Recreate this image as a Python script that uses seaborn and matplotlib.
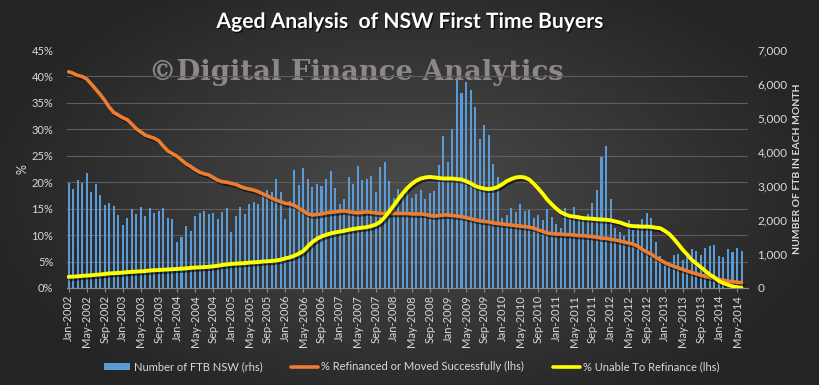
import numpy as np
import pandas as pd
import matplotlib
matplotlib.use("Agg")
import matplotlib.pyplot as plt
import matplotlib.patheffects as pe
from matplotlib.colors import LinearSegmentedColormap
from matplotlib.lines import Line2D
from matplotlib.patches import Patch
import seaborn as sns


# Data (monthly, Jan-2002 .. Jun-2014)

months = pd.date_range("2002-01-01", periods=150, freq="MS")
month_labels = list(months.strftime("%b-%Y"))

ftb_nsw = [
    3100, 2910, 3176, 3100, 3390, 2833, 3059, 2735, 2441, 2500, 2412, 2147,
    1853, 2059, 2324, 2176, 2373, 2118, 2353, 2216, 2275, 2353, 2059, 2029,
    1353, 1500, 1824, 1676, 2118, 2206, 2275, 2176, 2206, 2029, 2235, 2353,
    1647, 2118, 2373, 2176, 2470, 2529, 2470, 2765, 2882, 2824, 3206, 2833,
    2029, 2569, 3471, 3029, 3529, 3206, 2970, 3059, 3000, 3206, 3441, 2941,
    2470, 2618, 3265, 3059, 3588, 3176, 3206, 3294, 2824, 3559, 3706, 3147,
    2647, 2912, 2814, 2931, 2637, 2765, 2882, 2608, 2794, 2843, 3618, 4471,
    3706, 4676, 6147, 5725, 6059, 5814, 5324, 4382, 4794, 4500, 3647, 3265,
    2049, 2137, 2353, 2235, 2470, 2275, 2294, 2059, 2147, 2000, 2324, 2098,
    1873, 1755, 2363, 2100, 2373, 2147, 2127, 2176, 2500, 2882, 3853, 4176,
    2618, 1765, 1647, 1529, 2000, 1706, 1882, 2029, 2206, 2059, 1353, 941,
    676, 765, 971, 1000, 824, 1000, 1147, 1088, 971, 1176, 1235, 1255,
    941, 912, 1147, 1059, 1176, 1088,
]

refinanced_pct = [
    40.9, 40.6, 40.2, 40.0, 39.5, 38.6, 37.6, 36.6, 35.5, 34.2, 33.2, 32.7,
    32.2, 31.8, 31.0, 30.1, 29.5, 28.9, 28.6, 28.3, 27.8, 26.8, 25.9, 25.4,
    24.9, 24.2, 23.5, 23.0, 22.4, 21.9, 21.6, 21.4, 20.9, 20.4, 20.1, 20.0,
    19.8, 19.6, 19.2, 18.9, 18.7, 18.5, 18.2, 17.8, 17.4, 17.0, 16.6, 16.3,
    16.0, 15.9, 15.6, 15.1, 14.5, 14.0, 13.8, 13.9, 14.0, 14.2, 14.3, 14.4,
    14.5, 14.6, 14.4, 14.3, 14.2, 14.3, 14.4, 14.3, 14.2, 14.1, 14.1, 14.1,
    14.1, 14.1, 14.1, 14.1, 14.0, 14.0, 14.0, 13.9, 13.7, 13.6, 13.7, 13.8,
    13.8, 13.7, 13.6, 13.5, 13.3, 13.1, 12.9, 12.7, 12.6, 12.5, 12.3, 12.2,
    12.1, 12.0, 11.9, 11.8, 11.7, 11.6, 11.5, 11.3, 11.0, 10.7, 10.4, 10.3,
    10.2, 10.2, 10.1, 10.1, 10.0, 9.9, 9.9, 9.8, 9.7, 9.6, 9.4, 9.4,
    9.2, 9.1, 8.9, 8.7, 8.5, 8.3, 7.9, 7.3, 6.8, 6.4, 5.8, 5.3,
    4.8, 4.4, 4.1, 3.8, 3.5, 3.2, 2.9, 2.7, 2.4, 2.2, 2.0, 1.8,
    1.6, 1.5, 1.3, 1.2, 1.1, 1.0,
]

unable_pct = [
    2.1, 2.15, 2.2, 2.3, 2.35, 2.4, 2.5, 2.55, 2.65, 2.75, 2.8, 2.85,
    2.9, 3.0, 3.05, 3.1, 3.15, 3.2, 3.3, 3.35, 3.4, 3.45, 3.5, 3.55,
    3.6, 3.65, 3.7, 3.8, 3.85, 3.9, 3.95, 4.0, 4.1, 4.2, 4.35, 4.45,
    4.55, 4.6, 4.65, 4.7, 4.8, 4.85, 4.9, 5.0, 5.05, 5.1, 5.2, 5.35,
    5.6, 5.8, 6.1, 6.5, 7.0, 7.9, 8.7, 9.3, 9.75, 10.05, 10.3, 10.5,
    10.65, 10.8, 11.0, 11.15, 11.3, 11.4, 11.5, 11.7, 12.0, 12.5, 13.4, 14.5,
    15.6, 16.8, 17.9, 18.9, 19.7, 20.3, 20.7, 20.9, 21.0, 20.9, 20.8, 20.7,
    20.7, 20.7, 20.6, 20.5, 20.2, 19.8, 19.3, 19.0, 18.8, 18.7, 18.8, 19.1,
    19.6, 20.2, 20.6, 20.9, 21.0, 20.9, 20.5, 19.7, 18.8, 17.8, 16.7, 15.8,
    15.0, 14.3, 13.9, 13.6, 13.5, 13.35, 13.2, 13.15, 13.1, 13.0, 12.95, 12.9,
    12.8, 12.6, 12.4, 12.1, 11.8, 11.7, 11.65, 11.6, 11.6, 11.55, 11.4, 11.3,
    10.8, 10.2, 9.3, 8.3, 7.2, 6.3, 5.3, 4.6, 3.9, 3.2, 2.5, 2.0,
    1.3, 0.9, 0.6, 0.3, 0.15, 0.05,
]

left_ticks = [0, 5, 10, 15, 20, 25, 30, 35, 40, 45]
right_ticks = [0, 1000, 2000, 3000, 4000, 5000, 6000, 7000]

df = pd.DataFrame({
    "month": np.arange(len(months)),
    "ftb": ftb_nsw,
    "refinanced": refinanced_pct,
    "unable": unable_pct,
})


# Style

sns.set_theme(style="dark")
plt.rcParams["font.family"] = ["Lato", "DejaVu Sans"]

TEXT = "#d9d9d9"
BLUE = "#5b9bd5"
ORANGE = "#ed7d31"
YELLOW = "#ffff00"

fig = plt.figure(figsize=(8.2, 3.85), dpi=100)

# radial dark background
bg = fig.add_axes([0, 0, 1, 1], zorder=-10)
yy, xx = np.mgrid[0:1:200j, 0:1:400j]
rad = np.sqrt(((xx - 0.5) / 0.75) ** 2 + ((yy - 0.5) / 0.9) ** 2)
bg_cmap = LinearSegmentedColormap.from_list("bg", ["#4b4b4b", "#383838", "#252525"])
bg.imshow(rad, cmap=bg_cmap, aspect="auto", extent=[0, 1, 0, 1],
          vmin=0, vmax=0.7, origin="lower")
bg.set_axis_off()

bg.text(0.434, 0.812, "\u00a9Digital Finance Analytics", transform=bg.transAxes,
        ha="center", va="center", fontsize=19.8, fontweight="bold",
        family="DejaVu Serif", color="#8e8787")


# Axes

ax = fig.add_axes([0.082, 0.252, 0.83, 0.618])
ax2 = ax.twinx()
ax.set_zorder(ax2.get_zorder() + 1)
ax.patch.set_visible(False)
ax2.patch.set_visible(False)

# Bars (rhs)
sns.barplot(data=df, x="month", y="ftb", native_scale=True, width=0.45,
            color=BLUE, saturation=1, errorbar=None, linewidth=0, ax=ax2)

shadow = [pe.SimpleLineShadow(offset=(1.2, -1.5), shadow_color="black", alpha=0.55),
          pe.Normal()]

# Lines (lhs)
sns.lineplot(data=df, x="month", y="refinanced", color=ORANGE, lw=2.6,
             path_effects=shadow, ax=ax)
sns.lineplot(data=df, x="month", y="unable", color=YELLOW, lw=2.8,
             path_effects=shadow, ax=ax)

ax.set_xlim(-0.3, 150.4)
ax.set_ylim(0, 45)
ax2.set_ylim(0, 7000)

ax.set_xticks(df["month"][::4])
ax.set_xticklabels(month_labels[::4], rotation=90, fontsize=8, color=TEXT)
ax.set_yticks(left_ticks)
ax.set_yticklabels([f"{t}%" for t in left_ticks], fontsize=8, color=TEXT)
ax2.set_yticks(right_ticks)
ax2.set_yticklabels([f"{t:,}" for t in right_ticks], fontsize=8.5, color=TEXT)

# gridlines behind the bars
ax2.set_yticks(np.linspace(0, 7000, 10), minor=True)
ax2.grid(which="minor", axis="y", color="#5e5e5e", lw=0.8)
ax2.grid(which="major", visible=False)
ax2.set_axisbelow(True)
ax.grid(False)
ax2.xaxis.grid(False)

ax.tick_params(axis="x", length=3, width=0.8, color="#8a8a8a", pad=2, bottom=True)
ax.tick_params(axis="y", length=0, pad=10)
ax2.tick_params(axis="y", which="both", length=0, pad=7)

for a in (ax, ax2):
    for side in ("top", "left", "right"):
        a.spines[side].set_visible(False)
    a.spines["bottom"].set_color("#8a8a8a")
    a.spines["bottom"].set_linewidth(0.8)

ax.set_xlabel("")
ax2.set_xlabel("")
ax.set_ylabel("%", color=TEXT, fontsize=9, labelpad=2)
ax2.set_ylabel("NUMBER OF FTB IN EACH MONTH", color=TEXT, fontsize=7.5,
               fontweight="bold", labelpad=4)


# Title

fig.text(0.5, 0.943, "Aged Analysis  of NSW First Time Buyers", ha="center",
         va="center", fontsize=15.2, fontweight="bold", color="white",
         path_effects=[pe.withSimplePatchShadow(offset=(1, -1),
                                                shadow_rgbFace="black", alpha=0.7)])


# Legend

handles = [
    Patch(facecolor=BLUE, edgecolor="none"),
    Line2D([0], [0], color=ORANGE, lw=2.6),
    Line2D([0], [0], color=YELLOW, lw=2.6),
]
labels = [
    "Number of FTB NSW (rhs)",
    "% Refinanced or Moved Successfully (lhs)",
    "% Unable To Refinance (lhs)",
]
leg = fig.legend(handles, labels, loc="center", bbox_to_anchor=(0.502, 0.047),
                 ncol=3, frameon=False, fontsize=8, handlelength=2.4,
                 handleheight=0.6, handletextpad=0.3, columnspacing=2.6)
for t in leg.get_texts():
    t.set_color(TEXT)

fig.savefig("out.png", dpi=100)
